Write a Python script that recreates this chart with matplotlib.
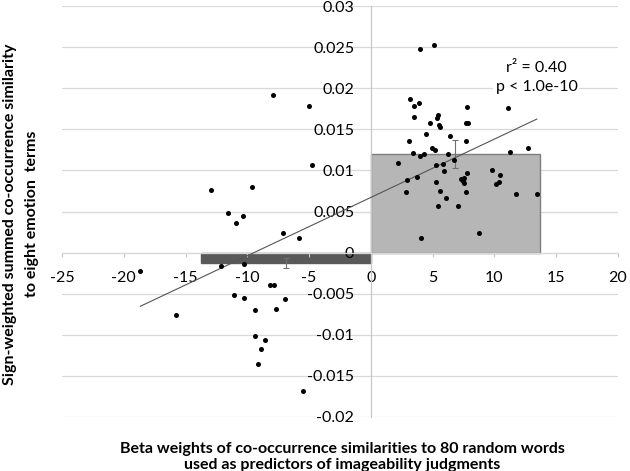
#!/usr/bin/env python3

import numpy as np
import matplotlib
matplotlib.use('Agg')
import matplotlib.pyplot as plt
plt.rcParams['font.family'] = ['Lato', 'DejaVu Sans']
plt.rcParams['font.size'] = 11

# beta weights (x) and sign-weighted similarity (y)
neg_beta = [-7.93, -5.02, -4.75, -12.94, -9.60, -11.60, -10.33, -10.92, -7.09, -5.85,
            -18.66, -12.11, -10.25, -8.17, -7.85, -11.11, -10.25, -6.98, -15.75, -9.39,
            -7.69, -9.36, -8.60, -8.90, -9.12, -5.53]
neg_sim = [0.0192, 0.0178, 0.0106, 0.00765, 0.0080, 0.0048, 0.00445, 0.00364, 0.00243, 0.00182,
           -0.00227, -0.00162, -0.00137, -0.00392, -0.00396, -0.0051, -0.00554, -0.00562, -0.0076, -0.00704,
           -0.00684, -0.0102, -0.0106, -0.01173, -0.01355, -0.01687]
pos_beta = [3.99, 5.12, 3.16, 3.48, 3.86, 3.45, 7.74, 11.11, 4.77, 5.45,
            5.37, 5.53, 5.61, 7.66, 7.87, 4.48, 6.39, 3.05, 7.69, 4.94,
            5.18, 12.73, 3.42, 3.94, 4.31, 6.28, 11.22, 2.21, 5.23, 5.80,
            6.69, 5.88, 2.94, 3.72, 7.77, 9.84, 10.41, 7.26, 7.52, 7.42,
            7.50, 10.33, 10.09, 5.31, 2.81, 5.61, 7.71, 6.07, 11.73, 13.43,
            5.45, 7.04, 8.79, 4.05]
pos_sim = [0.0248, 0.0252, 0.01873, 0.01784, 0.01816, 0.01646, 0.01776, 0.01756, 0.01582, 0.01671,
           0.01638, 0.01553, 0.01525, 0.01582, 0.01582, 0.01444, 0.0142, 0.01363, 0.01363, 0.01274,
           0.01246, 0.01278, 0.01217, 0.01181, 0.01201, 0.01201, 0.01222, 0.01089, 0.01068, 0.01076,
           0.01132, 0.00991, 0.00882, 0.00918, 0.00967, 0.01004, 0.00947, 0.00894, 0.00902, 0.00874,
           0.00846, 0.00862, 0.00829, 0.00858, 0.00732, 0.00752, 0.00732, 0.00659, 0.00708, 0.00716,
           0.0057, 0.00566, 0.00243, 0.00182]

# group summary bars: horizontal extent, mean similarity, error
bar_extent = [-13.75, 13.67]
bar_mean_beta = [-6.9, 6.8]
bar_height = [-0.0013, 0.01205]
bar_err = [0.0006, 0.0017]
bar_colors = ['#595959', '#b6b6b6']

x_ticks = [-25, -20, -15, -10, -5, 0, 5, 10, 15, 20]
y_ticks = [-0.02, -0.015, -0.01, -0.005, 0, 0.005, 0.01, 0.015, 0.02, 0.025, 0.03]


def main():
    x = np.array(neg_beta + pos_beta)
    y = np.array(neg_sim + pos_sim)

    fig = plt.figure(figsize=(6.3, 4.71), dpi=100)
    ax = fig.add_axes([62 / 630, 1 - 417 / 471, 556 / 630, 411 / 471])
    ax.set_xlim(-25, 20)
    ax.set_ylim(-0.02, 0.03)

    for val in y_ticks:
        ax.axhline(val, color='#d9d9d9', lw=0.9, zorder=0.5)

    for ext, h, c in zip(bar_extent, bar_height, bar_colors):
        ax.bar(0, h, width=ext, align='edge', color=c,
               edgecolor='#7f7f7f' if h > 0 else c, lw=1.0, zorder=1)
    ax.errorbar(bar_mean_beta, bar_height, yerr=bar_err, fmt='none',
                ecolor='#707070', elinewidth=0.8, capsize=2.5, capthick=0.8, zorder=2)

    slope, intercept = np.polyfit(x, y, 1)
    xs = np.array([x.min(), x.max()])
    ax.plot(xs, slope * xs + intercept, color='#555555', lw=0.8, zorder=3)

    ax.scatter(x, y, s=13, color='black', zorder=4, linewidths=0)

    ax.text(13.4, 0.0225, 'r\u00b2 = 0.40', ha='center', va='center', fontsize=11.5)
    ax.text(13.4, 0.0201, 'p < 1.0e-10', ha='center', va='center', fontsize=11.5,
            bbox=dict(facecolor='white', edgecolor='none', pad=1.5))

    for s in ['top', 'right']:
        ax.spines[s].set_visible(False)
    ax.spines['left'].set_position(('data', 0))
    ax.spines['bottom'].set_position(('data', 0))
    ax.spines['left'].set_color('#c8c8c8')
    ax.spines['bottom'].set_color('#d9d9d9')
    ax.spines['left'].set_linewidth(0.9)
    ax.spines['bottom'].set_linewidth(0.9)

    ax.set_xticks(x_ticks)
    ax.set_xticklabels([str(t) for t in x_ticks])
    ax.set_yticks(y_ticks)
    ax.set_yticklabels(['%g' % t for t in y_ticks])
    ax.tick_params(axis='x', direction='out', length=3, color='#c8c8c8', pad=10, labelsize=11.5)
    ax.tick_params(axis='y', length=0, pad=12, labelsize=11.5)

    fig.text(0.543, 1 - 449 / 471, 'Beta weights of co-occurrence similarities to 80 random words',
             ha='center', va='center', fontsize=11.5, fontweight='bold')
    fig.text(0.543, 1 - 465 / 471, 'used as predictors of imageability judgments',
             ha='center', va='center', fontsize=11.5, fontweight='bold')
    fig.text(10 / 630, 0.545, 'Sign-weighted summed co-occurrence similarity',
             ha='center', va='center', rotation=90, fontsize=11.5, fontweight='bold')
    fig.text(32 / 630, 0.545, 'to eight emotion  terms',
             ha='center', va='center', rotation=90, fontsize=11.5, fontweight='bold')

    fig.savefig('out.png', dpi=100)


if __name__ == '__main__':
    main()
